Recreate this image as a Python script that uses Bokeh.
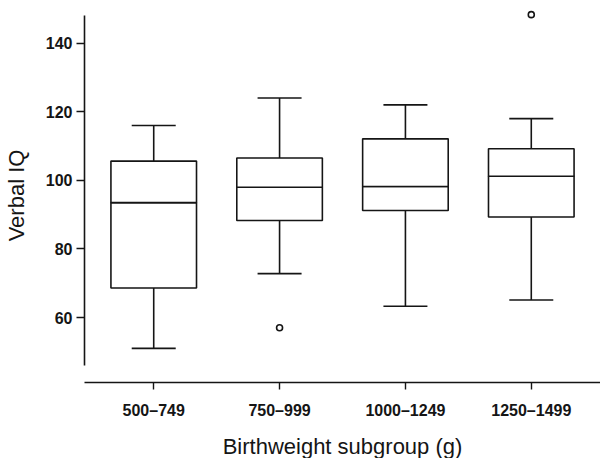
from bokeh.plotting import figure
from bokeh.models import (ColumnDataSource, FactorRange, Range1d, FixedTicker,
                          Whisker, TeeHead)
from bokeh.embed import file_html
from bokeh.resources import INLINE

# ---- data ----
categories = ["500–749", "750–999", "1000–1249", "1250–1499"]
upper_whisker = [116, 124, 122, 118]
q3 = [105.6, 106.5, 112.1, 109.2]
median = [93.5, 98.0, 98.2, 101.2]
q1 = [68.6, 88.3, 91.2, 89.3]
lower_whisker = [51, 72.8, 63.3, 65.1]
outlier_cats = ["750–999", "1250–1499"]
outlier_vals = [57, 148.3]
y_ticks = [60, 80, 100, 120, 140]

INK = "#151515"
FONT = "Liberation Sans"

src = ColumnDataSource(dict(cat=categories, upper=upper_whisker, q3=q3,
                            med=median, q1=q1, lower=lower_whisker))
out_src = ColumnDataSource(dict(cat=outlier_cats, val=outlier_vals))

p = figure(x_range=FactorRange(factors=categories, range_padding=0.05,
                               range_padding_units="absolute"),
           y_range=Range1d(41.05, 150.1),
           frame_width=516, frame_height=374,
           min_border_left=82, min_border_right=0, min_border_top=8,
           min_border_bottom=76,
           output_backend="svg", toolbar_location=None,
           background_fill_color="white", border_fill_color="white")
p.outline_line_color = None
p.grid.visible = False

# whiskers
p.add_layout(Whisker(source=src, base="cat", upper="upper", lower="q3",
                     line_color=INK, line_width=1.6,
                     upper_head=TeeHead(size=44, line_color=INK, line_width=1.6),
                     lower_head=None))
p.add_layout(Whisker(source=src, base="cat", upper="q1", lower="lower",
                     line_color=INK, line_width=1.6,
                     lower_head=TeeHead(size=44, line_color=INK, line_width=1.6),
                     upper_head=None))

# boxes (two halves -> median line)
p.vbar(x="cat", top="med", bottom="q1", width=0.68, source=src,
       fill_color="white", line_color=INK, line_width=1.6)
p.vbar(x="cat", top="q3", bottom="med", width=0.68, source=src,
       fill_color="white", line_color=INK, line_width=1.6)

# outliers
p.scatter(x="cat", y="val", source=out_src, marker="circle", size=6,
          fill_color="white", line_color=INK, line_width=1.6)

# y axis
ya = p.yaxis[0]
ya.ticker = FixedTicker(ticks=y_ticks)
ya.bounds = (46, 148)
ya.axis_label = "Verbal IQ"
ya.axis_label_text_font = FONT
ya.axis_label_text_font_size = "22px"
ya.axis_label_text_font_style = "normal"
ya.axis_label_text_color = INK
ya.axis_label_standoff = 14
ya.major_label_text_font = FONT
ya.major_label_text_font_size = "16px"
ya.major_label_text_font_style = "bold"
ya.major_label_text_color = INK
ya.major_label_standoff = 4
ya.major_tick_in = 0
ya.major_tick_out = 8
ya.minor_tick_in = 0
ya.minor_tick_out = 0
ya.axis_line_color = INK
ya.axis_line_width = 1.6
ya.major_tick_line_color = INK
ya.major_tick_line_width = 1.4

# x axis
xa = p.xaxis[0]
xa.axis_label = "Birthweight subgroup (g)"
xa.axis_label_text_font = FONT
xa.axis_label_text_font_size = "22px"
xa.axis_label_text_font_style = "normal"
xa.axis_label_text_color = INK
xa.axis_label_standoff = 12
xa.major_label_text_font = FONT
xa.major_label_text_font_size = "16px"
xa.major_label_text_font_style = "bold"
xa.major_label_text_color = INK
xa.major_label_standoff = 12
xa.major_tick_in = 0
xa.major_tick_out = 7
xa.axis_line_color = INK
xa.axis_line_width = 1.6
xa.major_tick_line_color = INK
xa.major_tick_line_width = 1.4

open("out.html", "w").write(file_html(p, INLINE))
